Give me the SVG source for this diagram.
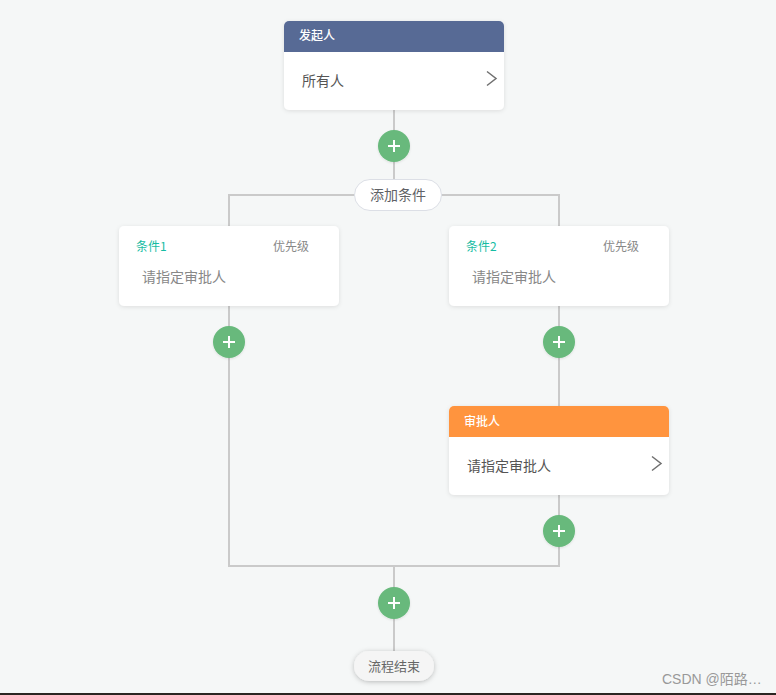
<svg xmlns="http://www.w3.org/2000/svg" width="776" height="695" viewBox="0 0 776 695">
<style>
text{font-family:"Noto Sans CJK SC","Liberation Sans",sans-serif}
.line{fill:none;stroke:#cacaca;stroke-width:2}
.card{fill:#fff;filter:url(#s)}
.ht{fill:#fff;font-size:12px;font-weight:500}
.bt{fill:#555;font-size:14px}
.gt{fill:#888;font-size:14px}
.pr{fill:#888;font-size:12px}
.cd{fill:#15bca3;font-size:12px}
.chev{fill:none;stroke:#707070;stroke-width:1.5}
.btn{fill:#67b97b;filter:url(#s2)}
.plus{stroke:#fff;stroke-width:2;fill:none}
</style>
<defs>
<filter id="s" x="-10%" y="-10%" width="120%" height="125%"><feDropShadow dx="0" dy="1" stdDeviation="2" flood-color="#000" flood-opacity="0.1"/></filter>
<filter id="s2" x="-20%" y="-20%" width="140%" height="140%"><feDropShadow dx="0" dy="1" stdDeviation="1" flood-color="#000" flood-opacity="0.1"/></filter>
<filter id="s3" x="-20%" y="-30%" width="140%" height="170%"><feDropShadow dx="0" dy="1" stdDeviation="2.5" flood-color="#000" flood-opacity="0.25"/></filter>
<g id="p"><circle class="btn" r="16"/><path class="plus" d="M-6 0H6M0-6V6"/></g>
</defs>
<rect width="776" height="695" fill="#f5f7f7"/>
<rect y="693" width="776" height="2" fill="#2a2522"/>
<g id="connectors">
<path class="line" d="M394 110V195"/>
<path class="line" d="M229 226V195H559V226"/>
<path class="line" d="M229 306V566H559V495"/>
<path class="line" d="M559 306V406"/>
<path class="line" d="M394 566V652"/>
</g>
<g id="start">
<rect class="card" x="284" y="21" width="220" height="89" rx="5"/>
<path d="M284 52V26a5 5 0 0 1 5-5H499a5 5 0 0 1 5 5V52Z" fill="#576a95"/>
<text class="ht" x="299" y="40">发起人</text>
<text class="bt" x="302" y="86">所有人</text>
<path class="chev" d="M487 71.500L496 78.500L487 85.500"/>
</g>
<g id="add1"><use href="#p" x="394" y="146"/></g>
<g id="addCondition">
<rect x="354.500" y="179.500" width="87" height="31" rx="15.500" fill="#fff" stroke="#dcdfe6"/>
<text x="398" y="200" text-anchor="middle" font-size="14" fill="#606266">添加条件</text>
</g>
<g id="cond1">
<rect class="card" x="119" y="226" width="220" height="80" rx="5"/>
<text class="cd" x="136" y="250.500">条件1</text>
<text class="pr" x="273" y="250.500">优先级</text>
<text class="gt" x="142" y="282">请指定审批人</text>
</g>
<g id="cond2">
<rect class="card" x="449" y="226" width="220" height="80" rx="5"/>
<text class="cd" x="466" y="250.500">条件2</text>
<text class="pr" x="603" y="250.500">优先级</text>
<text class="gt" x="472" y="282">请指定审批人</text>
</g>
<g id="add2"><use href="#p" x="229" y="342"/></g>
<g id="add3"><use href="#p" x="559" y="342"/></g>
<g id="approver">
<rect class="card" x="449" y="406" width="220" height="89" rx="5"/>
<path d="M449 437V411a5 5 0 0 1 5-5H664a5 5 0 0 1 5 5V437Z" fill="#ff943e"/>
<text class="ht" x="464" y="425.500">审批人</text>
<text class="bt" x="467" y="471">请指定审批人</text>
<path class="chev" d="M652 456.500L661 463.500L652 470.500"/>
</g>
<g id="add4"><use href="#p" x="559" y="531"/></g>
<g id="add5"><use href="#p" x="394" y="603"/></g>
<g id="end">
<rect x="354" y="651" width="80" height="30" rx="15" fill="#f5f5f5" filter="url(#s3)"/>
<text x="394" y="671" text-anchor="middle" font-size="13" fill="#666">流程结束</text>
</g>
<text x="662" y="684" font-size="14" fill="#999" style="font-family:'Liberation Sans','Noto Sans CJK SC',sans-serif">CSDN @陌路…</text>
</svg>
